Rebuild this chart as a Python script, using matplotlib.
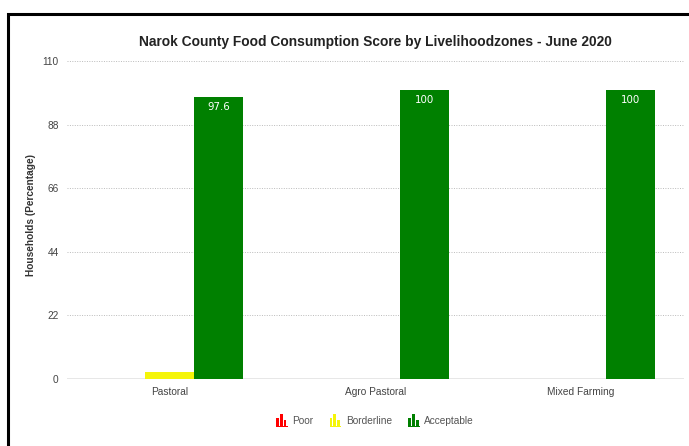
import matplotlib
matplotlib.use("Agg")
import matplotlib.pyplot as plt
import numpy as np
from matplotlib.patches import Rectangle
from matplotlib.legend_handler import HandlerBase

zones = ["Pastoral", "Agro Pastoral", "Mixed Farming"]
series = ["Poor", "Borderline", "Acceptable"]
poor = [0, 0, 0]
borderline = [2.4, 0, 0]
acceptable = [97.6, 100, 100]
colors = ["#ff0000", "#f5f50a", "#008000"]
yticks = [0, 22, 44, 66, 88, 110]

plt.rcParams['font.family'] = ['Liberation Sans', 'DejaVu Sans']

fig = plt.figure(figsize=(6.89, 4.46), dpi=100)
ax = fig.add_axes([67/689, 1-379/446, 617/689, 318/446])

x = np.arange(len(zones))
w = 0.238
values = [poor, borderline, acceptable]
bars = []
for i, (vals, c) in enumerate(zip(values, colors)):
    b = ax.bar(x + (i-1)*w, vals, width=w, color=c, label=series[i], zorder=3)
    bars.append(b)

for rect, v in zip(bars[2], acceptable):
    ax.annotate(f"{v:g}", (rect.get_x() + rect.get_width()/2, v),
                xytext=(0, -7.5), textcoords="offset points",
                ha="center", va="center", color="white", fontsize=7.4,
                family="DejaVu Sans", zorder=4)

ax.set_xlim(-0.5, 2.5)
ax.set_ylim(0, 110)
ax.set_yticks(yticks)
ax.set_xticks(x)
ax.set_xticklabels(zones)
ax.tick_params(axis='both', length=0, labelsize=7.3, labelcolor="#444444")
ax.tick_params(axis='y', pad=6)
ax.tick_params(axis='x', pad=6)
for s in ax.spines.values():
    s.set_visible(False)
ax.grid(axis='y', linestyle=(0, (1, 1.5)), color="#bbbbbb", linewidth=0.7, zorder=0)
ax.axhline(0, color="#888888", linewidth=1, zorder=2)

ax.set_ylabel("Households (Percentage)", fontsize=7.3, fontweight="bold", color="#333333")
ax.yaxis.set_label_coords(-(67-36)/617, (379-215)/318)
fig.text(375/689, 1-42/446, "Narok County Food Consumption Score by Livelihoodzones - June 2020",
         ha="center", va="center", fontsize=9.9, fontweight="bold", color="#222222")


class BarIconHandler(HandlerBase):
    def create_artists(self, legend, orig_handle, xdescent, ydescent, width, height, fontsize, trans):
        c = orig_handle.get_facecolor()
        arts = []
        heights = [1.2, 1.7, 0.9]
        bw = width * 0.22
        gap = width * 0.1
        y0 = -ydescent - 0.35 * height
        for k, h in enumerate(heights):
            r = Rectangle((-xdescent + k*(bw + gap), y0), bw, h*height,
                          facecolor=c, edgecolor="none", transform=trans)
            arts.append(r)
        base = Rectangle((-xdescent, y0 - 0.12*height), width * 0.95, 0.14*height,
                         facecolor=c, edgecolor="none", transform=trans)
        arts.append(base)
        return arts


handles = [b.patches[0] for b in bars]
hmap = {h: BarIconHandler() for h in handles}
leg = fig.legend(handles, series, handler_map=hmap, loc="center", bbox_to_anchor=(375/689, 1-421/446),
                 ncol=3, frameon=False, fontsize=7.3, handlelength=1.2, handletextpad=0.4,
                 columnspacing=1.6, labelcolor="#555555")

border = Rectangle((8/689, -0.05), 1.0, 1 - 14/446 + 0.05, transform=fig.transFigure,
                   fill=False, edgecolor="black", linewidth=2.2, clip_on=False)
fig.patches.append(border)

fig.savefig("out.png", dpi=100)
